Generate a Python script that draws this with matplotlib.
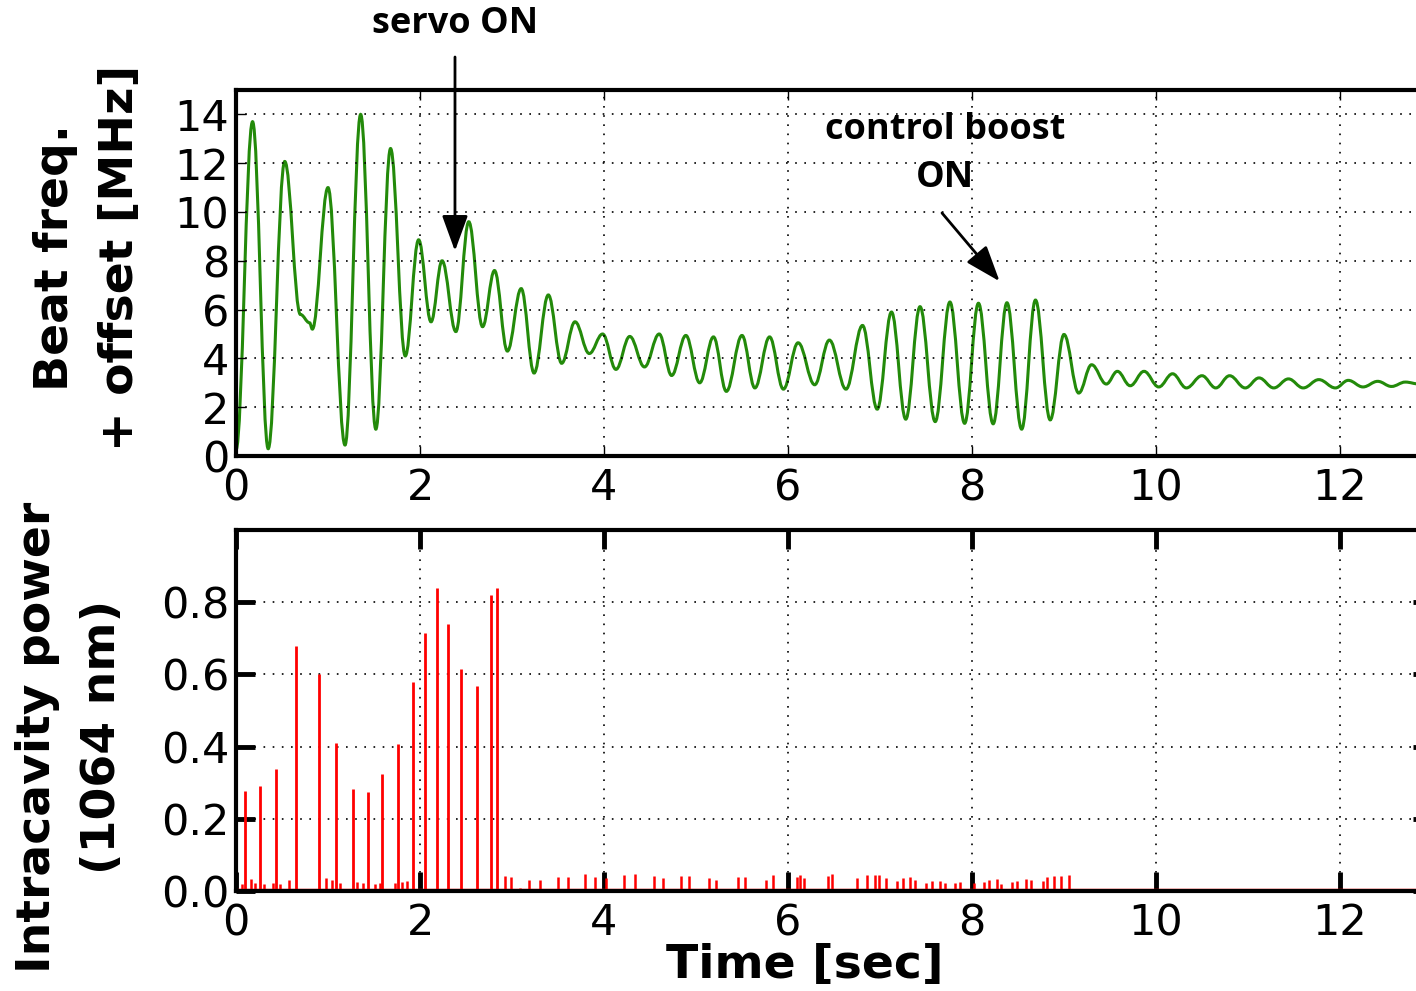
import numpy as np
import matplotlib
matplotlib.use("Agg")
import matplotlib.pyplot as plt
from matplotlib.path import Path
from matplotlib.patches import PathPatch

# beat frequency trace: turning points (time [s], MHz)
beat_t = [0.0, 0.18, 0.35, 0.53, 0.70, 0.80, 0.83, 1.00, 1.185, 1.355, 1.52, 1.68,
          1.84, 1.985, 2.12, 2.24, 2.39, 2.53, 2.68, 2.81, 2.95, 3.10, 3.24, 3.395,
          3.54, 3.685, 3.84, 3.985, 4.13, 4.28, 4.44, 4.60, 4.735, 4.89, 5.04, 5.19,
          5.33, 5.50, 5.64, 5.80, 5.95, 6.11, 6.29, 6.45, 6.63, 6.81, 6.97, 7.125,
          7.28, 7.435, 7.60, 7.76, 7.92, 8.07, 8.23, 8.38, 8.54, 8.69, 8.85, 9.00,
          9.16, 9.30, 9.46, 9.58, 9.72, 9.87, 10.03, 10.18, 10.33, 10.50, 10.65, 10.80,
          10.97, 11.12, 11.28, 11.44, 11.60, 11.77, 11.95, 12.09, 12.25, 12.41, 12.56,
          12.71, 12.86, 13.0]
beat_v = [0.25, 13.7, 0.3, 12.07, 5.8, 5.46, 5.2, 11.0, 0.45, 14.0, 1.1, 12.6,
          4.1, 8.86, 5.5, 8.0, 5.1, 9.6, 5.3, 7.6, 4.3, 6.86, 3.4, 6.6,
          3.8, 5.5, 4.2, 5.0, 3.55, 4.9, 3.65, 5.0, 3.3, 4.94, 3.0, 4.88,
          2.65, 4.94, 2.79, 4.88, 2.74, 4.64, 2.92, 4.75, 2.74, 5.35, 1.92, 5.9,
          1.51, 6.12, 1.41, 6.31, 1.34, 6.26, 1.32, 6.28, 1.1, 6.39, 1.48, 4.98,
          2.58, 3.74, 2.95, 3.47, 2.88, 3.47, 2.83, 3.37, 2.79, 3.29, 2.79, 3.29,
          2.79, 3.2, 2.79, 3.16, 2.79, 3.13, 2.79, 3.1, 2.83, 3.06, 2.85,
          3.03, 2.95, 3.0]

# intracavity power spikes
spike_t = [0.098, 0.26, 0.44, 0.65, 0.905, 1.087, 1.27, 1.43, 1.59, 1.765, 1.92,
           2.05, 2.19, 2.30, 2.45, 2.615, 2.77, 2.84]
spike_h = [0.276, 0.29, 0.338, 0.679, 0.60, 0.41, 0.283, 0.274, 0.325, 0.406, 0.58,
           0.716, 0.84, 0.739, 0.614, 0.569, 0.819, 0.838]
small_t = [0.06, 0.16, 0.21, 0.30, 0.40, 0.48, 0.58, 0.98, 1.04, 1.13, 1.31, 1.38,
           1.51, 1.57, 1.73, 1.80, 1.86, 2.92, 2.99, 3.09, 3.19, 3.30, 3.50, 3.61,
           3.79, 3.90, 4.02, 4.22, 4.34, 4.54, 4.64, 4.84, 4.92, 5.14, 5.22, 5.46,
           5.53, 5.76, 5.84, 6.10, 6.13, 6.17, 6.43, 6.48, 6.75, 6.86, 6.95, 6.99,
           7.07, 7.19, 7.25, 7.33, 7.38, 7.50, 7.56, 7.65, 7.71, 7.82, 7.87, 8.02,
           8.13, 8.18, 8.27, 8.32, 8.44, 8.49, 8.59, 8.64, 8.77, 8.82, 8.89, 8.97,
           9.05]
small_h = [0.019, 0.034, 0.023, 0.02, 0.022, 0.02, 0.03, 0.037, 0.031, 0.023, 0.025, 0.023,
           0.02, 0.022, 0.023, 0.025, 0.028, 0.042, 0.038, 0.007, 0.030, 0.030, 0.038, 0.038,
           0.048, 0.040, 0.036, 0.044, 0.048, 0.042, 0.036, 0.042, 0.042, 0.036, 0.030, 0.040,
           0.040, 0.030, 0.044, 0.038, 0.044, 0.036, 0.042, 0.048, 0.036, 0.044, 0.044, 0.044,
           0.036, 0.027, 0.036, 0.038, 0.030, 0.022, 0.028, 0.028, 0.022, 0.022, 0.025, 0.022,
           0.025, 0.030, 0.032, 0.020, 0.025, 0.028, 0.033, 0.030, 0.028, 0.040, 0.042, 0.042,
           0.044]
base_t = [0.0, 13.0]
base_v = [0.004, 0.004]

W, H = 1416, 991


def fp(x, y):
    # pixel position (from top-left) -> figure fraction
    return x / W, 1 - y / H


def smooth_path(ts, vs):
    # cubic segments between turning points, flat tangent at each point
    verts = [(ts[0], vs[0])]
    codes = [Path.MOVETO]
    for i in range(1, len(ts)):
        dt = ts[i] - ts[i - 1]
        verts += [(ts[i - 1] + 0.38 * dt, vs[i - 1]), (ts[i] - 0.38 * dt, vs[i]), (ts[i], vs[i])]
        codes += [Path.CURVE4] * 3
    return Path(verts, codes)


fig = plt.figure(figsize=(W / 100, H / 100), dpi=100)
ax1 = fig.add_axes([236 / W, (H - 456) / H, 1196 / W, 366 / H])
ax2 = fig.add_axes([236 / W, (H - 891) / H, 1196 / W, 361 / H])

ax1.add_patch(PathPatch(smooth_path(beat_t, beat_v), facecolor='none',
                        edgecolor='#238a0a', lw=2.2))
ax1.set_xlim(0, 13)
ax1.set_ylim(0, 15)
ax1.set_yticks(range(0, 15, 2))
ax1.set_xticks(range(0, 13, 2))

ax2.plot(base_t, base_v, color='red', lw=2.5)
ax2.vlines(small_t, 0, small_h, color='red', lw=1.8)
ax2.vlines(spike_t, 0, spike_h, color='red', lw=2)
ax2.set_xlim(0, 13)
ax2.set_ylim(0, 1.0)
ax2.set_yticks([0.0, 0.2, 0.4, 0.6, 0.8])
ax2.set_yticklabels(['0.0', '0.2', '0.4', '0.6', '0.8'])
ax2.set_xticks(range(0, 13, 2))

for ax in (ax1, ax2):
    ax.grid(True, color='k', lw=1.2, linestyle=(0, (1, 4.5)))
    for s in ax.spines.values():
        s.set_linewidth(3)
    ax.tick_params(labelsize=31, direction='in', top=True, right=True)
    ax.tick_params(axis='x', pad=8)
    ax.tick_params(axis='y', pad=5)
ax1.tick_params(length=7, width=1)
ax2.tick_params(length=14, width=3.5)

lab = dict(fontsize=34, fontweight='bold', rotation=90, ha='center', va='center',
           multialignment='center', linespacing=1.55)
fig.text(*fp(88, 258), 'Beat freq.\n+ offset [MHz]', **lab)
fig.text(*fp(70, 737), 'Intracavity power\n(1064 nm)', **lab)
fig.text(*fp(805, 966), 'Time [sec]', fontsize=34, fontweight='bold',
         ha='center', va='center')

note = dict(fontsize=26, fontweight='bold', family=['Open Sans', 'DejaVu Sans'],
            ha='center', va='center', multialignment='center')
fig.text(*fp(455, 24), 'servo ON', **note)
fig.text(*fp(945, 154), 'control boost\nON', linespacing=1.45, **note)

arrow = dict(arrowstyle='-|>,head_length=1.1,head_width=0.4', color='k', lw=2,
             shrinkA=0, shrinkB=0, mutation_scale=20)
ax1.annotate('', xy=(2.38, 8.4), xycoords='data', xytext=fp(455, 57),
             textcoords='figure fraction', arrowprops=arrow, annotation_clip=False)
ax1.annotate('', xy=(8.30, 7.16), xycoords='data', xytext=fp(942, 213),
             textcoords='figure fraction', arrowprops=arrow, annotation_clip=False)

fig.savefig('out.png', dpi=100)
